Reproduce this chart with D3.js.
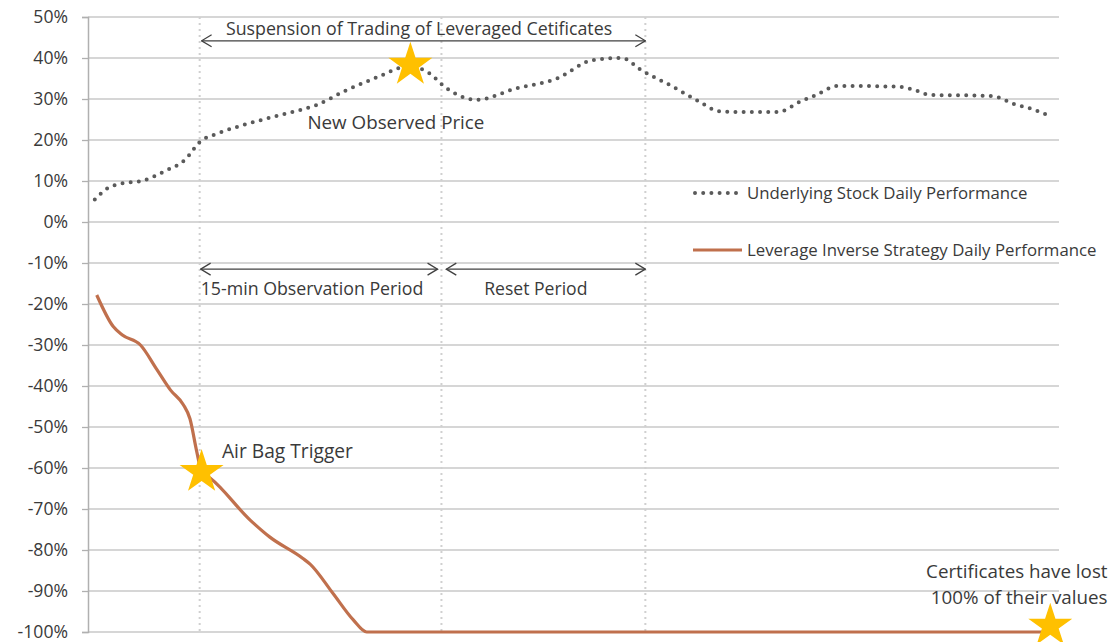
<!DOCTYPE html>
<html><head><meta charset="utf-8">
<script src="https://cdn.jsdelivr.net/npm/d3@7"></script>
<style>
body{margin:0;background:#fff;}
text{font-family:"Open Sans","Noto Sans",sans-serif;fill:#3a3a3a;}
</style></head>
<body>
<svg id="c" width="1115" height="642"></svg>
<script>
// ---- data ----
const yTicks = [50,40,30,20,10,0,-10,-20,-30,-40,-50,-60,-70,-80,-90,-100];
const stockT = [0.7,2,3.5,5.5,8,10,11.5,13.5,16.5,20.5,23.5,26.5,30,33,35,37,40,44,48.3,52,55,57,60,63,65,67,71,73.3,75,77.2,83.3,85,86.7,92.5,93.6,95.3,97.3,99.3];
const stockV = [5.5,8.2,9.4,10,12.5,15.2,19.5,21.7,24,26.5,28.5,32,35.5,38,36.5,32.5,29.8,32.5,35,39.5,40,37,33.3,29.3,27,26.8,26.8,29.3,31,33.2,33,32.3,31,30.8,30.5,28.8,27.5,25.6];
const invT = [0.9,2.6,3.5,5.4,7.1,8.5,9.8,10.5,11.2,11.7,12.6,16.7,18.7,22.1,22.9,25.2,27.3,28.7,98.5];
const invV = [-17.8,-25.5,-27.5,-30,-36,-41,-44.5,-48,-56,-61,-62.5,-72.7,-76.8,-82,-83.5,-90.5,-97,-100,-100];
const eventT = [11.5, 36.4, 57.4];
const seriesNames = ["Underlying Stock Daily Performance","Leverage Inverse Strategy Daily Performance"];
const stars = [[33.2,38.3],[11.7,-61],[99.1,-98.5]];

const svg = d3.select("#c");
const pL=88, pR=1059, pT=17, pB=632;
const x = d3.scaleLinear().domain([0,100]).range([pL,pR]);
const y = d3.scaleLinear().domain([-100,50]).range([pB,pT]);

// gridlines
svg.append("g").selectAll("line").data(yTicks).join("line")
  .attr("x1",pL).attr("x2",pR).attr("y1",d=>y(d)).attr("y2",d=>y(d))
  .attr("stroke","#c8c8c8").attr("stroke-width",1.3);

// y axis
const ya = svg.append("g").attr("transform",`translate(${pL},0)`)
  .call(d3.axisLeft(y).tickValues(yTicks).tickFormat(d=>d+"%").tickSize(6).tickPadding(14));
ya.select(".domain").attr("stroke","#b0b0b0").attr("stroke-width",1.5);
ya.selectAll(".tick line").attr("stroke","#b0b0b0").attr("stroke-width",1.3);
ya.selectAll(".tick text").style("font-size","17.6px").attr("fill","#404040").style("font-family","'Open Sans',sans-serif");

// event vertical dotted lines
svg.append("g").selectAll("line").data(eventT).join("line")
  .attr("x1",d=>x(d)).attr("x2",d=>x(d)).attr("y1",pT).attr("y2",pB)
  .attr("stroke","#d0d0d0").attr("stroke-width",2).attr("stroke-dasharray","2 4");

// lines
const stock = stockT.map((t,i)=>[t,stockV[i]]);
const inv = invT.map((t,i)=>[t,invV[i]]);
const line = d3.line().x(d=>x(d[0])).y(d=>y(d[1])).curve(d3.curveMonotoneX);
svg.append("path").attr("d",line(inv)).attr("fill","none").attr("stroke","#c0704d").attr("stroke-width",3.2);
svg.append("path").attr("d",line(stock)).attr("fill","none").attr("stroke","#5a5a5a")
  .attr("stroke-width",4).attr("stroke-linecap","round").attr("stroke-dasharray","0 8.2");

// arrows
const defs = svg.append("defs");
defs.append("marker").attr("id","ah").attr("viewBox","0 0 12 14").attr("refX",11).attr("refY",7)
  .attr("markerWidth",12).attr("markerHeight",14).attr("markerUnits","userSpaceOnUse").attr("orient","auto-start-reverse")
  .append("path").attr("d","M1,1 L11,7 L1,13").attr("fill","none").attr("stroke","#404040").attr("stroke-width",1.3);
const arrows = [[11.7,57.4,44.2],[11.6,36.0,-11.5],[36.9,57.4,-11.5]];
svg.append("g").selectAll("line").data(arrows).join("line")
  .attr("x1",d=>x(d[0])).attr("x2",d=>x(d[1])).attr("y1",d=>y(d[2])).attr("y2",d=>y(d[2]))
  .attr("stroke","#404040").attr("stroke-width",1.3)
  .attr("marker-start","url(#ah)").attr("marker-end","url(#ah)");

// stars
const starSym = d3.symbol().type(d3.symbolStar).size(600);
svg.append("g").selectAll("path").data(stars).join("path")
  .attr("d",starSym).attr("transform",d=>`translate(${x(d[0])},${y(d[1])})`)
  .attr("fill","#ffc000");

// annotation texts
const ann = [
  {t:"Suspension of Trading of Leveraged Cetificates", tx:14.2, v:45.7, a:"start", s:17.8},
  {t:"New Observed Price", tx:22.6, v:22.8, a:"start", s:18.8},
  {t:"15-min Observation Period", tx:11.6, v:-17.9, a:"start", s:17.8},
  {t:"Reset Period", tx:40.8, v:-17.9, a:"start", s:17.6},
  {t:"Air Bag Trigger", tx:13.8, v:-57.5, a:"start", s:19.2},
  {t:"Certificates have lost", tx:105.0, v:-86.9, a:"end", s:18.8},
  {t:"100% of their values", tx:105.0, v:-93.2, a:"end", s:18.8}
];
svg.append("g").selectAll("text").data(ann).join("text")
  .attr("x",d=>x(d.tx)).attr("y",d=>y(d.v)).attr("text-anchor",d=>d.a)
  .style("font-size",d=>d.s+"px").text(d=>d.t);

// legend
const lg = svg.append("g");
lg.append("line").attr("x1",695).attr("x2",738).attr("y1",193).attr("y2",193)
  .attr("stroke","#5a5a5a").attr("stroke-width",4).attr("stroke-linecap","round").attr("stroke-dasharray","0 8.2");
lg.append("line").attr("x1",693).attr("x2",742).attr("y1",250).attr("y2",250)
  .attr("stroke","#c0704d").attr("stroke-width",3.2);
lg.selectAll("text").data(seriesNames).join("text")
  .attr("x",747).attr("y",(d,i)=>199+i*57).style("font-size","16.8px").text(d=>d);
</script>
</body></html>
